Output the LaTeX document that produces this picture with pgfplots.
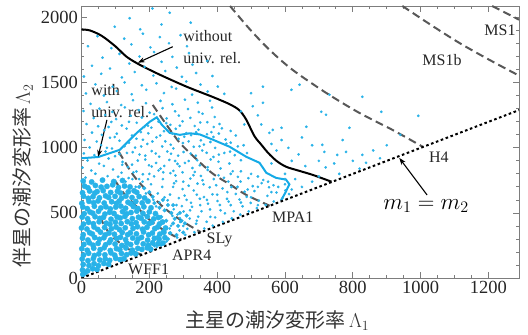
\documentclass[border=0pt]{standalone}
\usepackage{fix-cm}
\usepackage{fontspec}
\setmainfont{Liberation Serif}
\newfontfamily\jp{Noto Sans CJK JP}
\usepackage{pgfplots}
\pgfplotsset{compat=1.18}
\usetikzlibrary{arrows.meta}
\definecolor{ptblue}{RGB}{40,178,232}
\definecolor{lnblue}{RGB}{20,170,230}
\definecolor{eosgray}{RGB}{88,88,88}
\definecolor{framegray}{RGB}{125,125,125}
\begin{document}
\begin{tikzpicture}
\begin{axis}[
 scale only axis, width=437.5pt, height=272pt,
 xmin=0,xmax=1290,ymin=0,ymax=2090,
 xtick={0,200,...,1200}, ytick={0,500,...,2000},
 minor x tick num=3, minor y tick num=4,
 tick align=inside, major tick length=6pt, minor tick length=3pt,
 axis line style={framegray, line width=0.8pt},
 every tick/.style={framegray, line width=0.8pt},
 tick label style={font=\fontsize{18.5}{20}\selectfont, text=black!85},
 /pgf/number format/assume math mode=true,
 /pgf/number format/1000 sep={},
 xlabel={{\jp 主星の潮汐変形率}\,$\Lambda_1$},
 ylabel={{\jp 伴星の潮汐変形率}\,$\Lambda_2$},
 every axis x label/.style={at={(axis description cs:0.448,-0.158)}, anchor=center, font=\fontsize{20}{24}\selectfont, text=black!80},
 every axis y label/.style={at={(axis description cs:-0.134,0.375)}, rotate=90, anchor=center, font=\fontsize{20}{24}\selectfont, text=black!80},
 ptmarks/.style={only marks, mark=*, color=ptblue, mark options={draw=ptblue, fill=ptblue, line width=0.3pt}},
]
% dense core
\addplot[ptmarks, mark size=2.7pt] coordinates {
(4,28)(10,40)
(3,62)(18,55)(33,71)(46,66)
(5,104)(22,96)(37,110)(50,95)(66,112)(80,104)
(2,146)(19,133)(35,150)(54,138)(70,147)(83,135)(101,151)(114,142)(125,148)
(6,176)(21,190)(38,173)(51,185)(69,178)(87,193)(98,175)(118,188)(133,179)(146,192)(160,185)
(1,225)(17,213)(36,229)(55,218)(67,233)(85,211)(103,226)(113,217)(131,231)(150,214)(166,228)(178,220)(194,232)(204,222)
(7,258)(23,271)(34,252)(49,266)(71,255)(82,273)(99,261)(119,250)(134,268)(145,257)(163,274)(182,262)(197,251)(210,269)(226,264)(240,268)
(3,306)(19,292)(39,311)(53,297)(66,309)(86,293)(104,304)(115,313)(130,295)(151,307)(167,299)(177,312)(195,291)(215,305)(229,298)(246,310)
(5,333)(24,348)(32,338)(56,352)(70,331)(81,345)(97,336)(120,350)(136,333)(144,347)(162,339)(183,354)(198,332)(209,346)(231,337)(243,351)
(0,385)(16,376)(37,392)(48,373)(68,388)(88,378)(102,391)(112,372)(129,386)(152,381)(165,394)(180,375)(193,389)(216,379)(225,392)(248,384)
(6,414)(21,428)(35,417)(52,432)(73,421)(84,413)(100,429)(117,419)(135,433)(147,416)(161,425)(185,431)(199,418)(207,427)(230,415)(239,430)
(2,468)(18,455)(40,471)(54,458)(65,466)(87,452)(105,469)(114,461)(128,473)(150,456)(168,467)(176,459)(194,472)(213,454)(227,465)
(8,494)(25,507)(33,498)(50,512)(69,491)(83,505)(96,496)(121,510)(133,493)(146,503)(163,514)(181,497)(200,508)(218,495)
(4,546)(17,533)(38,551)(57,538)(72,547)(85,531)(101,545)(116,552)(130,536)(153,549)(166,534)(184,547)(205,539)
(1,574)(22,589)(36,578)(49,592)(67,576)(89,586)(103,573)(111,591)(137,582)(145,571)(160,588)(179,577)(196,590)
(6,628)(20,612)(34,625)(53,616)(71,631)(80,619)(99,627)(118,613)(131,629)(149,618)(170,626)(186,615)
(3,655)(24,668)(39,652)(46,664)(64,671)(86,657)(106,666)(115,653)(138,662)(155,670)(163,658)
(9,706)(19,693)(41,711)(58,698)(75,704)(92,716)(109,695)(127,707)(143,700)
(5,745)(30,738)(62,752)(95,741)(121,749)
};
% core extension
\addplot[ptmarks, mark size=1.9pt] coordinates {
(210,280)(225,320)(240,360)(255,300)(262,345)(270,420)(250,440)(235,470)(265,500)(245,520)(255,560)(230,540)(215,575)(240,600)(210,625)(200,660)(185,690)(170,700)(280,330)(285,400)(275,455)(290,500)(270,560)(300,350)(305,420)(310,480)(295,440)(215,250)(230,260)
};
% periphery points
\addplot[ptmarks, mark size=1.2pt] coordinates {
(251,281)(259,347)(264,402)(268,477)(272,528)(254,597)(261,641)(273,728)(277,788)
(282,311)(289,366)(291,431)(283,488)(296,552)(287,614)(298,683)(279,744)
(306,331)(312,378)(319,457)(301,511)(323,578)(304,633)(316,709)(321,764)
(333,352)(338,417)(344,471)(326,547)(349,609)(331,672)(342,725)(352,784)
(362,380)(369,432)(354,513)(373,571)(361,622)(378,697)(357,751)
(387,402)(394,466)(379,527)(401,592)(386,643)(397,713)(404,789)
(417,431)(423,497)(408,561)(429,608)(416,688)(433,741)
(443,458)(449,513)(434,587)(455,646)(442,699)(461,777)
(468,487)(475,551)(466,603)(481,663)(469,741)
(493,512)(499,577)(487,624)(505,706)(492,767)
(517,537)(523,595)(510,668)(531,729)
(543,561)(548,631)(553,697)(536,753)
(567,588)(575,657)(566,713)(592,611)(601,673)(612,645)
(235,250)(222,238)(244,272)(212,600)(225,650)(238,700)(205,720)(190,650)(180,740)(160,700)(150,760)(220,550)(245,620)(230,580)
(12,772)(41,801)(77,783)(118,809)(139,768)(181,797)(214,781)(241,812)
(3,848)(29,826)(66,861)(93,834)(137,852)(162,819)(199,866)(233,840)(271,823)(289,859)(327,845)
(18,903)(52,879)(80,918)(121,892)(149,871)(188,910)(220,884)(259,907)(283,877)(316,899)(349,866)(381,911)
(7,957)(38,944)(71,972)(99,936)(134,961)(171,949)(207,975)(229,932)(264,955)(301,968)(337,940)(369,962)(405,948)(438,971)
(24,1003)(58,1021)(90,995)(127,1013)(158,1002)(194,1030)(238,1011)(271,996)(299,1037)(331,1008)(361,1025)(394,1000)(427,1032)(461,1011)
(9,1061)(45,1049)(84,1078)(112,1055)(149,1094)(181,1062)(221,1081)(247,1050)(286,1069)(323,1098)(352,1058)(389,1084)(425,1064)(455,1095)
(31,1117)(67,1136)(104,1109)(133,1148)(175,1121)(206,1155)(243,1128)(278,1146)(309,1113)(345,1139)(383,1121)(414,1150)
(15,1183)(49,1166)(88,1199)(119,1172)(163,1193)(196,1170)(227,1201)(262,1177)(298,1204)(334,1168)(371,1197)(407,1183)
(36,1229)(70,1252)(102,1221)(145,1247)(178,1233)(214,1259)(251,1226)(287,1248)(321,1230)(357,1262)(393,1237)
(6,1283)(53,1301)(91,1276)(128,1311)(169,1290)(201,1270)(239,1305)(276,1281)(314,1298)(346,1275)(385,1310)
(27,1338)(75,1352)(117,1329)(152,1366)(190,1343)(233,1361)(268,1335)(305,1370)(343,1347)(379,1362)
(13,1418)(66,1402)(104,1437)(148,1412)(191,1446)(243,1421)(279,1455)(326,1409)(372,1433)(421,1415)
(41,1488)(92,1470)(127,1503)(178,1481)(221,1496)(266,1468)(309,1510)(351,1486)(402,1471)
(7,1548)(58,1569)(119,1541)(157,1583)(212,1555)(247,1590)(296,1546)(338,1575)(386,1552)
(31,1631)(84,1610)(141,1648)(186,1622)(236,1661)(281,1617)(327,1639)(371,1668)
(62,1693)(112,1722)(171,1702)(214,1736)(268,1699)(317,1728)
(19,1781)(88,1766)(147,1795)(203,1772)(258,1804)(311,1781)
(47,1858)(126,1839)(181,1877)(231,1851)(292,1866)
(98,1931)(173,1911)(236,1948)
(142,1996)(260,2038)(209,2071)(322,1962)
(535,1470)(619,1446)(643,1485)(731,1408)(707,1277)(721,1254)(828,1392)(790,1154)(884,1277)(993,1246)
(564,1138)(590,1154)(663,1162)(710,1023)(716,969)(754,946)(780,969)(828,946)(839,885)(535,1346)(554,1115)
(470,1280)(480,1180)(505,1320)(500,1420)(520,1250)(530,1180)(560,1030)(575,980)(590,1060)(610,1000)
(620,900)(640,950)(650,1080)(660,860)(680,1020)(700,900)(720,850)(745,880)(760,800)(770,1060)
(800,900)(820,840)(860,980)(880,920)(900,1020)(940,1100)(560,880)(600,800)(630,760)(680,740)
(700,780)(650,700)(620,680)(600,760)
(108,778)(153,812)(196,759)(227,826)(262,806)(298,812)(334,815)(372,830)(410,842)(446,820)
(120,870)(166,902)(207,857)(244,861)(276,899)(305,884)(341,905)(372,851)(404,893)(436,880)(470,905)
(112,952)(151,967)(188,940)(219,957)(253,972)(285,940)(322,956)(356,980)(389,930)(421,961)(452,944)(488,960)
(75,1000)(140,1040)(176,1011)(209,1049)(263,1024)(316,1050)(348,1012)(380,1045)(440,1040)(478,1020)
(60,1100)(98,1083)(162,1070)(197,1112)(232,1095)(268,1110)(303,1085)(338,1120)(370,1105)(405,1110)(440,1130)
(80,1160)(140,1200)(185,1160)(250,1190)(290,1170)(350,1195)(390,1160)
(130,740)(170,760)(200,800)(240,760)(270,700)(300,740)(330,790)(360,720)(390,760)(420,770)(440,800)(470,820)(500,800)(520,780)
(280,560)(310,600)(340,640)(370,600)(400,640)(430,660)(460,700)(490,680)(520,700)(550,740)(580,700)(600,720)(560,660)
(260,380)(290,460)(320,520)(350,560)(380,470)(410,520)(440,560)(470,580)(500,620)(520,560)(300,400)(340,440)
};
% EOS curves
\addplot[eosgray, line width=2pt, dash pattern=on 8pt off 4.5pt, smooth] coordinates {(54,470)(80,350)(113,270)(140,220)(165,190)(180,180)};
\addplot[eosgray, line width=2pt, dash pattern=on 8pt off 4.5pt, smooth] coordinates {(100,745)(125,650)(152,577)(201,446)(251,354)(295,295)};
\addplot[eosgray, line width=2pt, dash pattern=on 8pt off 4.5pt, smooth] coordinates {(110,970)(150,800)(182,700)(215,610)(251,523)(300,432)(352,352)};
\addplot[eosgray, line width=2pt, dash pattern=on 8pt off 4.5pt, smooth] coordinates {(210,1330)(250,1180)(290,1038)(340,910)(388,800)(440,715)(486,638)(555,555)};
\addplot[eosgray, line width=2pt, dash pattern=on 8pt off 4.5pt, smooth] coordinates {(438,2090)(495,1915)(554,1754)(622,1600)(721,1423)(819,1269)(917,1138)(1005,1010)};
\addplot[eosgray, line width=2pt, dash pattern=on 8pt off 4.5pt, smooth] coordinates {(946,2090)(1030,1945)(1113,1808)(1200,1680)(1290,1555)};
\addplot[eosgray, line width=2pt, dash pattern=on 8pt off 4.5pt] coordinates {(1211,2090)(1290,1985)};
% with univ. rel.
\addplot[lnblue, line width=2pt] coordinates {(0,920)(50,930)(113,985)(163,1115)(201,1200)(222,1235)(236,1180)(260,1115)(290,1100)(320,1112)(349,1103)(388,1062)(437,1008)(486,931)(525,885)(545,808)(574,769)(603,756)(613,720)(600,650)(588,595)};
% without univ. rel.
\addplot[black, line width=2pt, smooth] coordinates {(0,1910)(25,1902)(60,1860)(100,1780)(133,1700)(172,1638)(231,1562)(310,1470)(388,1390)(437,1335)(465,1290)(485,1220)(510,1090)(530,1025)(550,962)(575,900)(603,855)(640,825)(682,792)(737,740)};
% m1 = m2
\addplot[black, line width=2pt, dash pattern=on 2.6pt off 2.6pt] coordinates {(0,0)(1290,1290)};
% annotations
\node[anchor=west, align=left, font=\fontsize{16}{22}\selectfont, text=black!85] at (axis cs:290,1777) {without\\univ. rel.};
\node[anchor=west, align=left, font=\fontsize{16}{22}\selectfont, text=black!85] at (axis cs:19,1358) {with\\univ. rel.};
\draw[black, line width=1.1pt, -{Stealth[length=7pt,width=5pt]}] (axis cs:269,1777) -- (axis cs:166,1654);
\draw[black, line width=1.1pt, -{Stealth[length=7pt,width=5pt]}] (axis cs:75,1215) -- (axis cs:49,931);
\draw[black, line width=1.1pt, -{Stealth[length=7pt,width=5pt]}] (axis cs:1019,638) -- (axis cs:937,923);
\begin{scope}[every node/.style={font=\fontsize{16}{18}\selectfont, text=black!85}]
\node at (axis cs:623,470) {MPA1};
\node at (axis cs:1054,930) {H4};
\node at (axis cs:1063,1677) {MS1b};
\node at (axis cs:1234,1900) {MS1};
\node at (axis cs:407,292) {SLy};
\node at (axis cs:325,177) {APR4};
\node at (axis cs:198,69) {WFF1};
\end{scope}
\node[font=\fontsize{23}{26}\selectfont] at (axis cs:1016,554) {$m_1 = m_2$};
\end{axis}
\path ([xshift=-81.5pt,yshift=-56pt]current axis.south west) rectangle ([xshift=9pt,yshift=6pt]current axis.north east);
\end{tikzpicture}
\end{document}
